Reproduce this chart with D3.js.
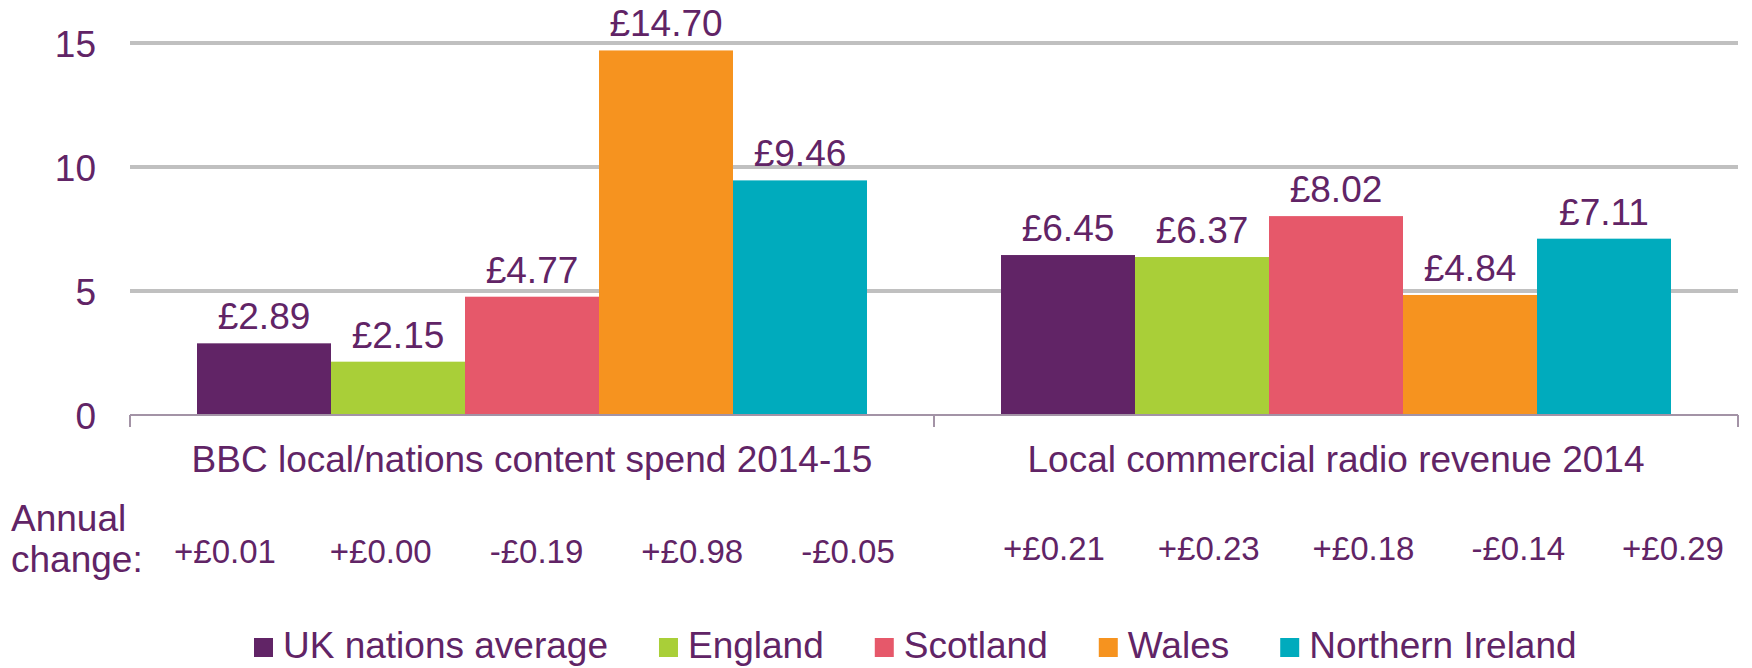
<!DOCTYPE html>
<html>
<head>
<meta charset="utf-8">
<script src="https://cdn.jsdelivr.net/npm/d3@7/dist/d3.min.js"></script>
<style>
    html, body { margin: 0; padding: 0; background: #fff; }
    svg { display: block; }
    text { font-family: "Liberation Sans", Arial, sans-serif; fill: #612466; }
</style>
</head>
<body>
<div id="chart"></div>
<script>
var categories = ["BBC local/nations content spend 2014-15", "Local commercial radio revenue 2014"];
var seriesNames = ["UK nations average", "England", "Scotland", "Wales", "Northern Ireland"];
var bbcSpend = [2.89, 2.15, 4.77, 14.70, 9.46];
var commercialRevenue = [6.45, 6.37, 8.02, 4.84, 7.11];
var bbcChange = ["+£0.01", "+£0.00", "-£0.19", "+£0.98", "-£0.05"];
var commercialChange = ["+£0.21", "+£0.23", "+£0.18", "-£0.14", "+£0.29"];
var yTicks = [0, 5, 10, 15];
var colors = ["#612466", "#a9cf38", "#e6586a", "#f6931f", "#00abbd"];

window.onload = function () {
    var width = 1752, height = 668;
    var left = 130, right = 1738, top = 43, bottom = 415;

    var values = [bbcSpend, commercialRevenue];
    var changes = [bbcChange, commercialChange];
    // where the annual change row sits under each group
    var changeRanges = [[225, 848], [1054, 1673]];
    var changeBaselines = [563, 560];

    var svg = d3.select("#chart").append("svg")
        .attr("width", width)
        .attr("height", height);

    var x0 = d3.scaleBand()
        .domain(categories)
        .range([left, right])
        .padding(0);

    var x1 = d3.scaleBand()
        .domain(seriesNames)
        .range([0, x0.bandwidth()])
        .paddingInner(0)
        .paddingOuter(0.5);

    var y = d3.scaleLinear()
        .domain([0, 15])
        .range([bottom, top]);

    // gridlines
    svg.append("g")
        .selectAll("line")
        .data(yTicks.filter(function (d) { return d > 0; }))
        .enter().append("line")
        .attr("x1", left)
        .attr("x2", right)
        .attr("y1", function (d) { return y(d); })
        .attr("y2", function (d) { return y(d); })
        .attr("stroke", "#c0c0c0")
        .attr("stroke-width", 4);

    // y axis labels
    var yAxis = d3.axisLeft(y).tickValues(yTicks).tickSize(0).tickPadding(34);
    var gy = svg.append("g")
        .attr("transform", "translate(" + left + ",0)")
        .call(yAxis);
    gy.select(".domain").remove();
    gy.selectAll("text")
        .style("font-size", "37px")
        .attr("dy", "0.36em")
        .attr("fill", "#612466");

    // bars
    var groups = svg.append("g")
        .selectAll("g")
        .data(categories)
        .enter().append("g")
        .attr("transform", function (d) { return "translate(" + x0(d) + ",0)"; });

    groups.selectAll("rect")
        .data(function (d, i) {
            return values[i].map(function (v, j) { return {name: seriesNames[j], value: v, idx: j}; });
        })
        .enter().append("rect")
        .attr("x", function (d) { return x1(d.name); })
        .attr("width", x1.bandwidth())
        .attr("y", function (d) { return y(d.value); })
        .attr("height", function (d) { return y(0) - y(d.value); })
        .attr("fill", function (d) { return colors[d.idx]; });

    groups.selectAll("text.value")
        .data(function (d, i) {
            return values[i].map(function (v, j) { return {name: seriesNames[j], value: v}; });
        })
        .enter().append("text")
        .attr("class", "value")
        .attr("x", function (d) { return x1(d.name) + x1.bandwidth() / 2; })
        .attr("y", function (d) { return y(d.value) - 14; })
        .attr("text-anchor", "middle")
        .style("font-size", "37px")
        .text(function (d) { return "£" + d.value.toFixed(2); });

    // x axis line and ticks
    var xAxis = svg.append("g");
    xAxis.append("line")
        .attr("x1", left).attr("x2", right)
        .attr("y1", y(0)).attr("y2", y(0))
        .attr("stroke", "#a393a6")
        .attr("stroke-width", 2);
    xAxis.selectAll("line.tick")
        .data([left, left + x0.bandwidth(), right])
        .enter().append("line")
        .attr("class", "tick")
        .attr("x1", function (d) { return d; })
        .attr("x2", function (d) { return d; })
        .attr("y1", y(0))
        .attr("y2", y(0) + 12)
        .attr("stroke", "#a393a6")
        .attr("stroke-width", 2);

    xAxis.selectAll("text")
        .data(categories)
        .enter().append("text")
        .attr("x", function (d) { return x0(d) + x0.bandwidth() / 2; })
        .attr("y", 472)
        .attr("text-anchor", "middle")
        .style("font-size", "37px")
        .text(function (d) { return d; });

    // annual change row
    var changeLabel = svg.append("text")
        .attr("x", 11)
        .style("font-size", "37px");
    changeLabel.append("tspan").attr("x", 11).attr("y", 531).text("Annual");
    changeLabel.append("tspan").attr("x", 11).attr("y", 572).text("change:");

    categories.forEach(function (c, i) {
        var xc = d3.scalePoint().domain(seriesNames).range(changeRanges[i]);
        svg.append("g")
            .selectAll("text")
            .data(changes[i])
            .enter().append("text")
            .attr("x", function (d, j) { return xc(seriesNames[j]); })
            .attr("y", changeBaselines[i])
            .attr("text-anchor", "middle")
            .style("font-size", "33px")
            .text(function (d) { return d; });
    });

    // legend
    var legend = svg.append("g");
    var lx = 254;
    seriesNames.forEach(function (name, i) {
        legend.append("rect")
            .attr("x", lx)
            .attr("y", 638)
            .attr("width", 19)
            .attr("height", 19)
            .attr("fill", colors[i]);
        var t = legend.append("text")
            .attr("x", lx + 29)
            .attr("y", 658)
            .style("font-size", "37px")
            .text(name);
        lx = lx + 29 + t.node().getComputedTextLength() + 51;
    });
};
</script>
</body>
</html>
